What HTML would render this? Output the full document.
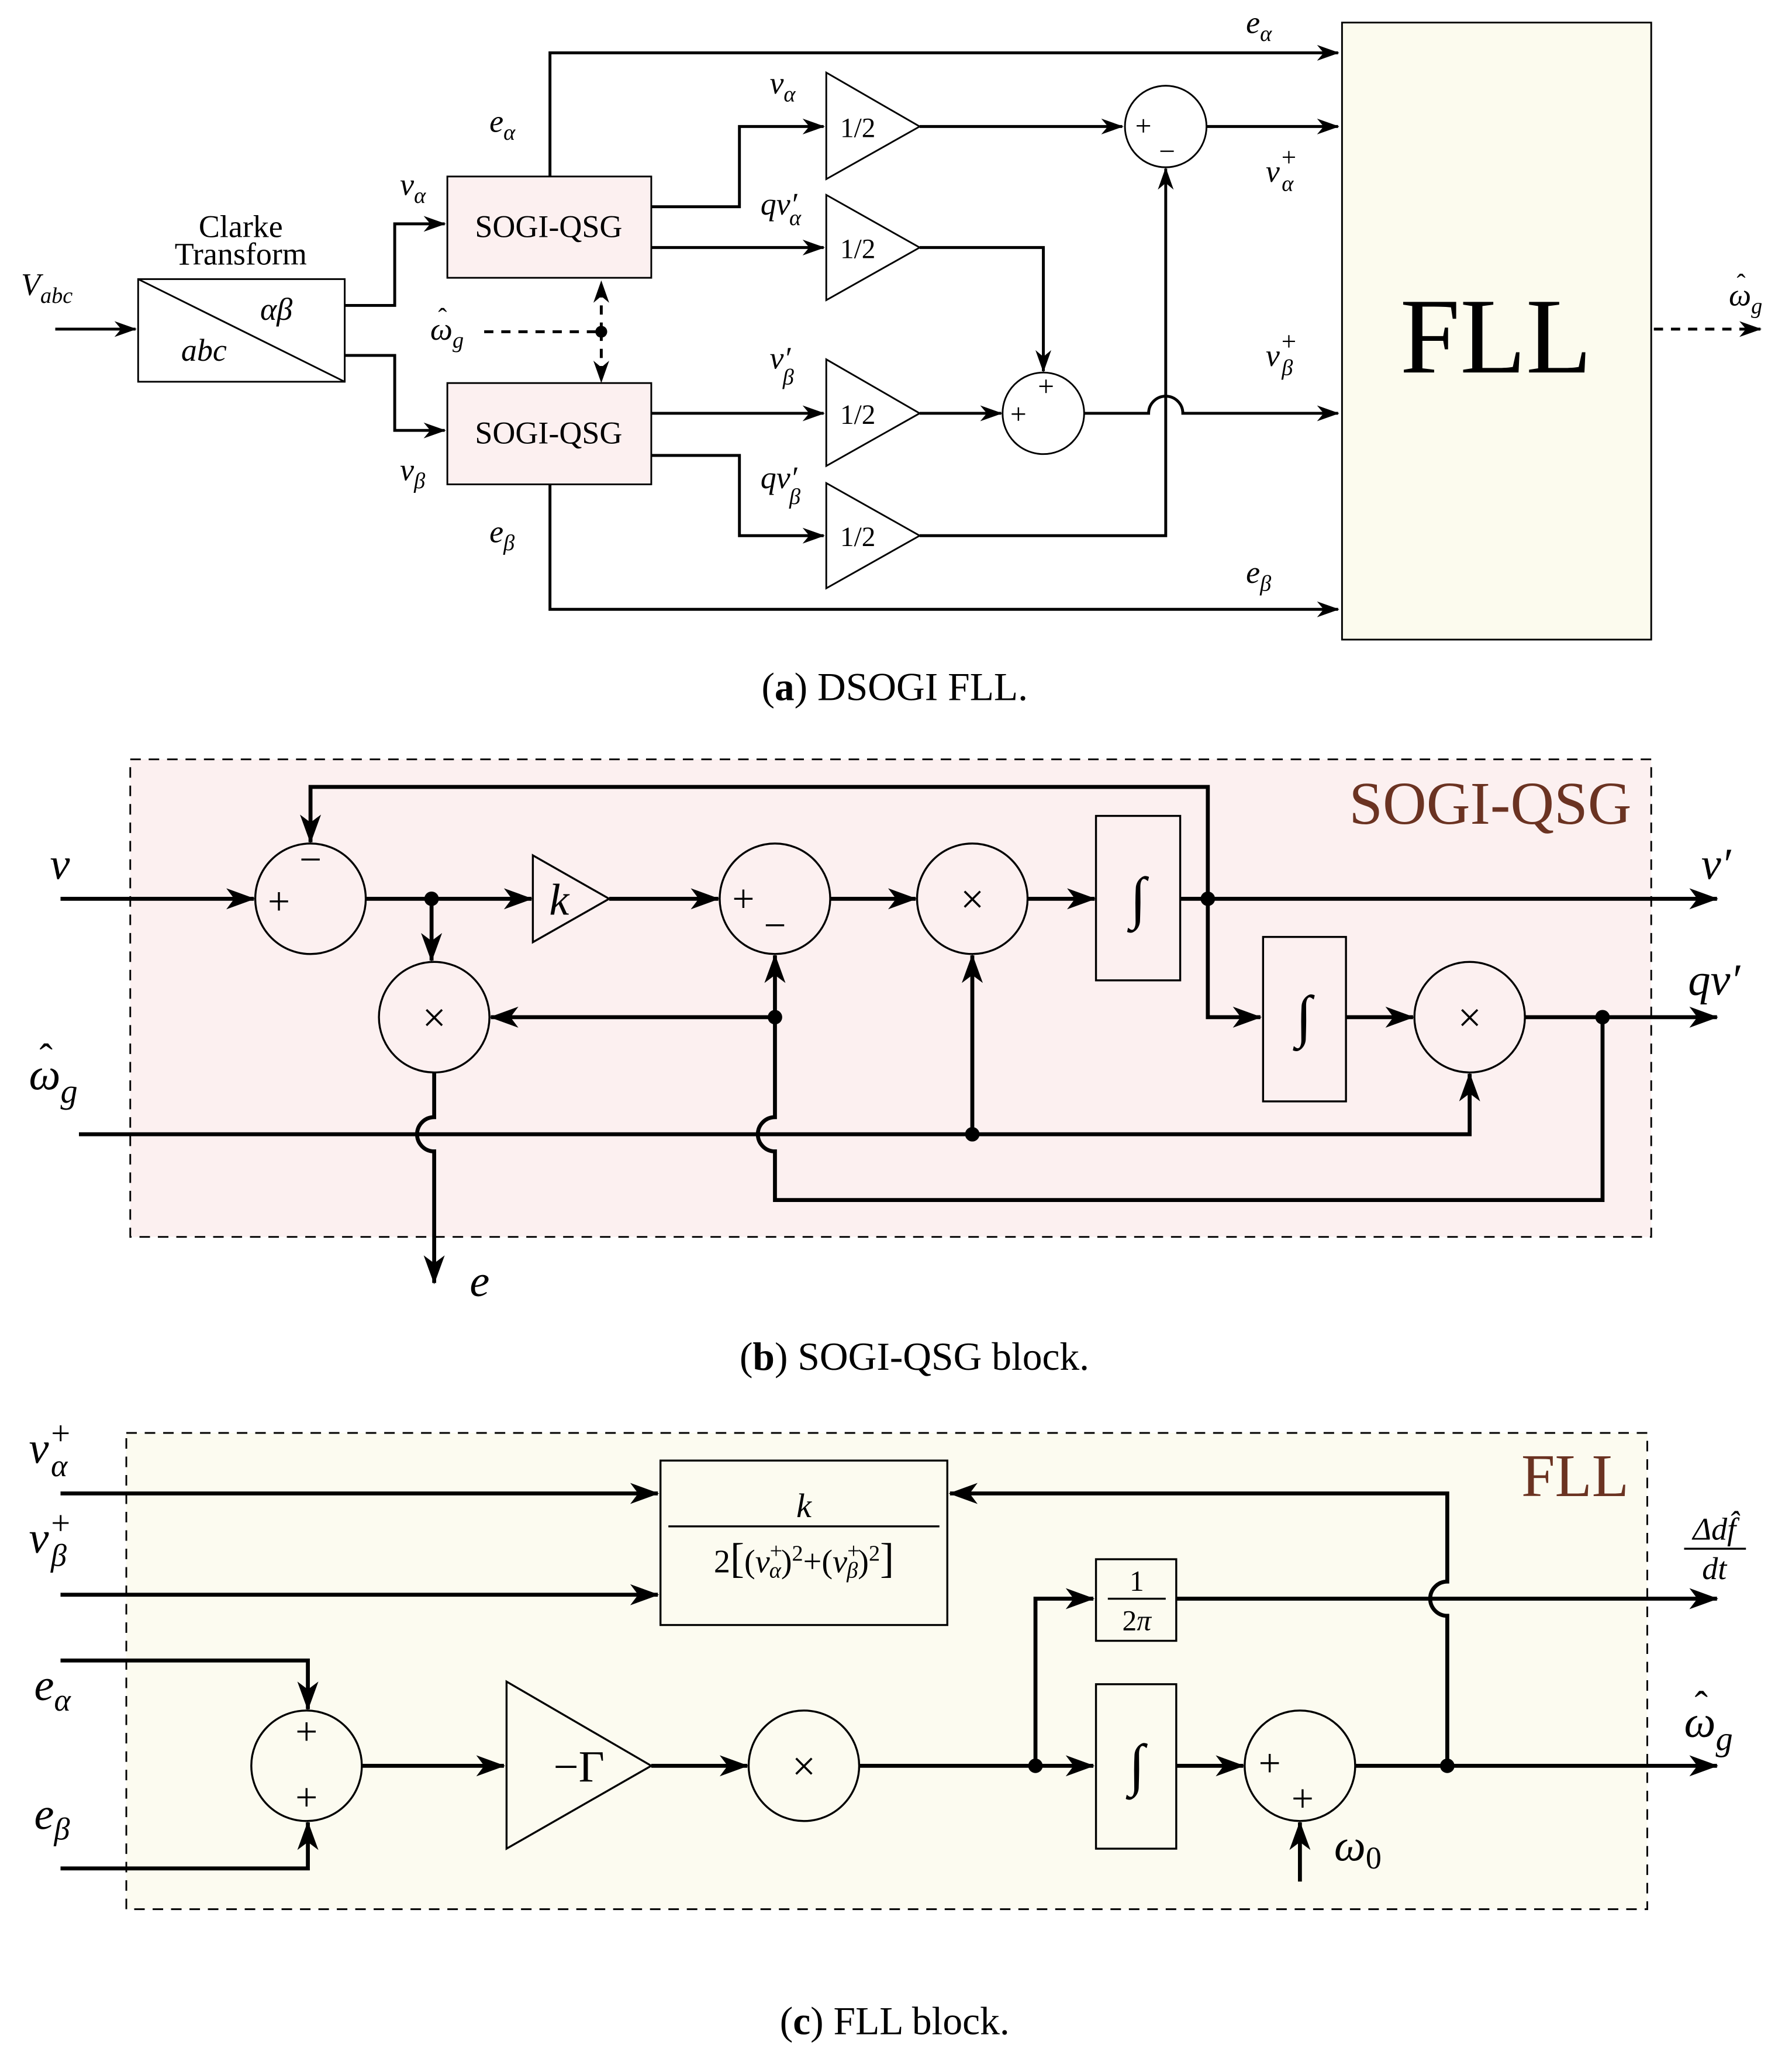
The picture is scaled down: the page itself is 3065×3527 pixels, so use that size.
<!DOCTYPE html>
<html><head><meta charset="utf-8"><style>
html,body{margin:0;padding:0;background:#fff}
svg{display:block}
text{font-family:"Liberation Serif","DejaVu Serif",serif;fill:#000}
.i{font-style:italic}
</style></head><body>
<svg width="3065" height="3527" viewBox="0 0 1362 1567" xmlns="http://www.w3.org/2000/svg">
<defs>
<marker id="a" markerUnits="userSpaceOnUse" markerWidth="24" markerHeight="16" refX="21" refY="8" orient="auto" overflow="visible">
<path d="M0,0 L22,8 L0,16 L6,8 Z" fill="#000"/></marker>
<marker id="s" markerUnits="userSpaceOnUse" markerWidth="18" markerHeight="12" refX="16" refY="6" orient="auto" overflow="visible">
<path d="M0,0 L17,6 L0,12 L5,6 Z" fill="#000"/></marker>
</defs>
<rect width="1362" height="1567" fill="#fff"/>

<!-- ===== (a) ===== -->
<g fill="none" stroke="#000" stroke-width="2.2">
<path d="M42,250 H103" marker-end="url(#s)"/>
<path d="M262,232 H300 V170 H338" marker-end="url(#s)"/>
<path d="M262,270 H300 V327 H338" marker-end="url(#s)"/>
<path d="M418,134 V40 H1017" marker-end="url(#s)"/>
<path d="M495,157 H562 V96 H626" marker-end="url(#s)"/>
<path d="M495,188 H626" marker-end="url(#s)"/>
<path d="M495,314 H626" marker-end="url(#s)"/>
<path d="M495,346 H562 V407 H626" marker-end="url(#s)"/>
<path d="M699,96 H853" marker-end="url(#s)"/>
<path d="M917,96 H1017" marker-end="url(#s)"/>
<path d="M699,188 H793 V282" marker-end="url(#s)"/>
<path d="M699,314 H761" marker-end="url(#s)"/>
<path d="M824,314 H873 A13,13 0 0 1 899,314 H1017" marker-end="url(#s)"/>
<path d="M699,407 H886 V128" marker-end="url(#s)"/>
<path d="M418,368 V463 H1017" marker-end="url(#s)"/>
<path d="M368,252 H457" stroke-dasharray="7,6"/>
<path d="M457,252 V214" stroke-dasharray="7,6" marker-end="url(#s)"/>
<path d="M457,252 V290" stroke-dasharray="7,6" marker-end="url(#s)"/>
<path d="M1257,250 H1338" stroke-dasharray="7,6" marker-end="url(#s)"/>
</g>
<circle cx="457" cy="252" r="4.5" fill="#000"/>
<g stroke="#000" stroke-width="1.3">
<rect x="105" y="212" width="157" height="78" fill="#fff"/>
<line x1="105" y1="212" x2="262" y2="290"/>
<rect x="340" y="134" width="155" height="77" fill="#fcf0f0"/>
<rect x="340" y="291" width="155" height="77" fill="#fcf0f0"/>
<path d="M628,55 L699,96 L628,136 Z" fill="#fff"/>
<path d="M628,148 L699,188 L628,228 Z" fill="#fff"/>
<path d="M628,273 L699,314 L628,354 Z" fill="#fff"/>
<path d="M628,367 L699,407 L628,447 Z" fill="#fff"/>
<circle cx="886" cy="96" r="31" fill="#fff"/>
<circle cx="793" cy="314" r="31" fill="#fff"/>
<rect x="1020" y="17" width="235" height="469" fill="#fcfbee"/>
</g>
<g font-size="24">
<text x="183" y="180" text-anchor="middle">Clarke</text>
<text x="183" y="201" text-anchor="middle">Transform</text>
<text x="210" y="243" text-anchor="middle" class="i">αβ</text>
<text x="155" y="274" text-anchor="middle" class="i">abc</text>
<text x="417" y="180" text-anchor="middle">SOGI-QSG</text>
<text x="417" y="337" text-anchor="middle">SOGI-QSG</text>
<text x="16" y="224" class="i">V<tspan font-size="17" dy="6">abc</tspan></text>
<text x="304" y="148" class="i">v<tspan font-size="17" dy="6">α</tspan></text>
<text x="304" y="365" class="i">v<tspan font-size="17" dy="6">β</tspan></text>
<text x="327" y="258" class="i">ω<tspan font-size="17" dy="6">g</tspan></text>
<text x="333" y="248" font-size="20">ˆ</text>
<text x="372" y="100" class="i">e<tspan font-size="17" dy="6">α</tspan></text>
<text x="372" y="412" class="i">e<tspan font-size="17" dy="6">β</tspan></text>
<text x="947" y="25" class="i">e<tspan font-size="17" dy="6">α</tspan></text>
<text x="947" y="443" class="i">e<tspan font-size="17" dy="6">β</tspan></text>
<text x="585" y="71" class="i">v<tspan font-size="17" dy="6">α</tspan></text>
<text x="578" y="163" class="i">qv′<tspan font-size="17" dy="8" dx="-6">α</tspan></text>
<text x="585" y="280" class="i">v′<tspan font-size="17" dy="12" dx="-6">β</tspan></text>
<text x="578" y="371" class="i">qv′<tspan font-size="17" dy="12" dx="-6">β</tspan></text>
<text x="962" y="138" class="i">v<tspan font-size="20" dy="-12">+</tspan><tspan font-size="17" dx="-12" dy="19">α</tspan></text>
<text x="962" y="278" class="i">v<tspan font-size="20" dy="-12">+</tspan><tspan font-size="17" dx="-12" dy="19">β</tspan></text>
<text x="1314" y="232" class="i">ω<tspan font-size="17" dy="6">g</tspan></text>
<text x="1320" y="222" font-size="20">ˆ</text>
<text x="652" y="104" text-anchor="middle" font-size="21">1/2</text>
<text x="652" y="196" text-anchor="middle" font-size="21">1/2</text>
<text x="652" y="322" text-anchor="middle" font-size="21">1/2</text>
<text x="652" y="415" text-anchor="middle" font-size="21">1/2</text>
<text x="869" y="103" text-anchor="middle" font-size="22">+</text>
<text x="887" y="122" text-anchor="middle" font-size="22">−</text>
<text x="795" y="301" text-anchor="middle" font-size="22">+</text>
<text x="774" y="322" text-anchor="middle" font-size="22">+</text>
</g>
<text x="1137" y="283" text-anchor="middle" font-size="82">FLL</text>
<text x="680" y="532" text-anchor="middle" font-size="30">(<tspan font-weight="bold">a</tspan>) DSOGI FLL.</text>

<!-- ===== (b) ===== -->
<rect x="99" y="577" width="1156" height="363" fill="#fcf0f0" stroke="#000" stroke-width="1.3" stroke-dasharray="8,6"/>
<text x="1240" y="626" text-anchor="end" font-size="46" style="fill:#6b3322">SOGI-QSG</text>
<g fill="none" stroke="#000" stroke-width="3">
<path d="M46,683 H193" marker-end="url(#a)"/>
<path d="M918,683 V598 H236 V640" marker-end="url(#a)"/>
<path d="M278,683 H404" marker-end="url(#a)"/>
<path d="M328,683 V730" marker-end="url(#a)"/>
<path d="M463,683 H546" marker-end="url(#a)"/>
<path d="M631,683 H696" marker-end="url(#a)"/>
<path d="M781,683 H832" marker-end="url(#a)"/>
<path d="M897,683 H1305" marker-end="url(#a)"/>
<path d="M918,683 V773 H958" marker-end="url(#a)"/>
<path d="M1023,773 H1074" marker-end="url(#a)"/>
<path d="M1159,773 H1305" marker-end="url(#a)"/>
<path d="M1218,773 V912 H589 V875 A13,13 0 0 1 589,849 V726" marker-end="url(#a)"/>
<path d="M589,773 H373" marker-end="url(#a)"/>
<path d="M60,862 H1117 V816" marker-end="url(#a)"/>
<path d="M739,862 V726" marker-end="url(#a)"/>
<path d="M330,815 V849 A13,13 0 0 0 330,875 V975" marker-end="url(#a)"/>
</g>
<g stroke="#000" stroke-width="1.5" fill="#fcf0f0">
<circle cx="236" cy="683" r="42"/>
<circle cx="330" cy="773" r="42"/>
<circle cx="589" cy="683" r="42"/>
<circle cx="739" cy="683" r="42"/>
<circle cx="1117" cy="773" r="42"/>
<path d="M405,650 L463,683 L405,716 Z"/>
<rect x="833" y="620" width="64" height="125"/>
<rect x="960" y="712" width="63" height="125"/>
</g>
<g fill="#000"><circle cx="328" cy="683" r="5.5"/><circle cx="918" cy="683" r="5.5"/><circle cx="589" cy="773" r="5.5"/><circle cx="739" cy="862" r="5.5"/><circle cx="1218" cy="773" r="5.5"/></g>
<g font-size="34">
<text x="212" y="695" text-anchor="middle" font-size="30">+</text>
<text x="236" y="663" text-anchor="middle" font-size="30">−</text>
<text x="565" y="693" text-anchor="middle" font-size="30">+</text>
<text x="589" y="713" text-anchor="middle" font-size="30">−</text>
<text x="330" y="784" text-anchor="middle" font-size="32">×</text>
<text x="739" y="694" text-anchor="middle" font-size="32">×</text>
<text x="1117" y="784" text-anchor="middle" font-size="32">×</text>
<text x="425" y="695" text-anchor="middle" class="i">k</text>
<text x="865" y="697" text-anchor="middle" class="i" font-size="44">∫</text>
<text x="991" y="787" text-anchor="middle" class="i" font-size="44">∫</text>
<text x="38" y="668" class="i">v</text>
<text x="1293" y="668" class="i">v′</text>
<text x="1283" y="756" class="i">qv′</text>
<text x="22" y="828" class="i">ω<tspan font-size="26" dy="10">g</tspan></text>
<text x="30" y="814" font-size="30">ˆ</text>
<text x="357" y="985" class="i">e</text>
</g>
<text x="695" y="1041" text-anchor="middle" font-size="30">(<tspan font-weight="bold">b</tspan>) SOGI-QSG block.</text>

<!-- ===== (c) ===== -->
<rect x="96" y="1089" width="1156" height="362" fill="#fcfbf0" stroke="#000" stroke-width="1.3" stroke-dasharray="8,6"/>
<text x="1238" y="1137" text-anchor="end" font-size="46" style="fill:#6b3322">FLL</text>
<g fill="none" stroke="#000" stroke-width="3">
<path d="M46,1135 H500" marker-end="url(#a)"/>
<path d="M46,1212 H500" marker-end="url(#a)"/>
<path d="M1100,1342 V1228 A13,13 0 0 1 1100,1202 V1135 H722" marker-end="url(#a)"/>
<path d="M46,1262 H234 V1299" marker-end="url(#a)"/>
<path d="M46,1420 H234 V1385" marker-end="url(#a)"/>
<path d="M275,1342 H383" marker-end="url(#a)"/>
<path d="M495,1342 H568" marker-end="url(#a)"/>
<path d="M653,1342 H831" marker-end="url(#a)"/>
<path d="M787,1342 V1215 H831" marker-end="url(#a)"/>
<path d="M894,1342 H945" marker-end="url(#a)"/>
<path d="M988,1430 V1385" marker-end="url(#a)"/>
<path d="M1030,1342 H1305" marker-end="url(#a)"/>
<path d="M894,1215 H1305" marker-end="url(#a)"/>
</g>
<g stroke="#000" stroke-width="1.5" fill="#fcfbf0">
<rect x="502" y="1110" width="218" height="125"/>
<circle cx="233" cy="1342" r="42"/>
<path d="M385,1278 L495,1342 L385,1405 Z"/>
<circle cx="611" cy="1342" r="42"/>
<rect x="833" y="1185" width="61" height="62"/>
<rect x="833" y="1280" width="61" height="125"/>
<circle cx="988" cy="1342" r="42"/>
</g>
<g fill="#000"><circle cx="787" cy="1342" r="5.5"/><circle cx="1100" cy="1342" r="5.5"/></g>
<g stroke="#000" stroke-width="1.5"><line x1="508" y1="1160" x2="714" y2="1160"/><line x1="842" y1="1215" x2="886" y2="1215"/><line x1="1280" y1="1177" x2="1327" y2="1177"/></g>
<g font-size="34">
<text x="611" y="1153" text-anchor="middle" font-size="26" class="i">k</text>
<text x="611" y="1195" text-anchor="middle" font-size="25">2<tspan font-size="32">[</tspan>(<tspan class="i">v</tspan><tspan font-size="17" dy="-11">+</tspan><tspan font-size="17" dx="-10" dy="15" class="i">α</tspan><tspan dy="-4">)</tspan><tspan font-size="17" dy="-9">2</tspan><tspan dy="9">+(</tspan><tspan class="i">v</tspan><tspan font-size="17" dy="-11">+</tspan><tspan font-size="17" dx="-10" dy="15" class="i">β</tspan><tspan dy="-4">)</tspan><tspan font-size="17" dy="-9">2</tspan><tspan font-size="32" dy="9">]</tspan></text>
<text x="864" y="1209" text-anchor="middle" font-size="22">1</text>
<text x="864" y="1239" text-anchor="middle" font-size="22">2<tspan class="i">π</tspan></text>
<text x="233" y="1326" text-anchor="middle" font-size="30">+</text>
<text x="233" y="1376" text-anchor="middle" font-size="30">+</text>
<text x="440" y="1354" text-anchor="middle">−Γ</text>
<text x="611" y="1353" text-anchor="middle" font-size="32">×</text>
<text x="864" y="1356" text-anchor="middle" class="i" font-size="44">∫</text>
<text x="965" y="1350" text-anchor="middle" font-size="30">+</text>
<text x="990" y="1377" text-anchor="middle" font-size="30">+</text>
<text x="1014" y="1414" class="i">ω<tspan font-size="24" dy="6" font-style="normal">0</tspan></text>
<text x="22" y="1112" class="i">v<tspan font-size="26" dy="-14">+</tspan><tspan font-size="24" dx="-16" dy="24">α</tspan></text>
<text x="22" y="1180" class="i">v<tspan font-size="26" dy="-14">+</tspan><tspan font-size="24" dx="-16" dy="24">β</tspan></text>
<text x="26" y="1292" class="i">e<tspan font-size="24" dy="8">α</tspan></text>
<text x="26" y="1390" class="i">e<tspan font-size="24" dy="8">β</tspan></text>
<text x="1280" y="1320" class="i">ω<tspan font-size="26" dy="10">g</tspan></text>
<text x="1288" y="1306" font-size="30">ˆ</text>
<text x="1303" y="1170" text-anchor="middle" font-size="24" class="i">Δdf̂</text>
<text x="1303" y="1200" text-anchor="middle" font-size="24" class="i">dt</text>
</g>
<text x="680" y="1546" text-anchor="middle" font-size="30">(<tspan font-weight="bold">c</tspan>) FLL block.</text>
</svg>
</body></html>
